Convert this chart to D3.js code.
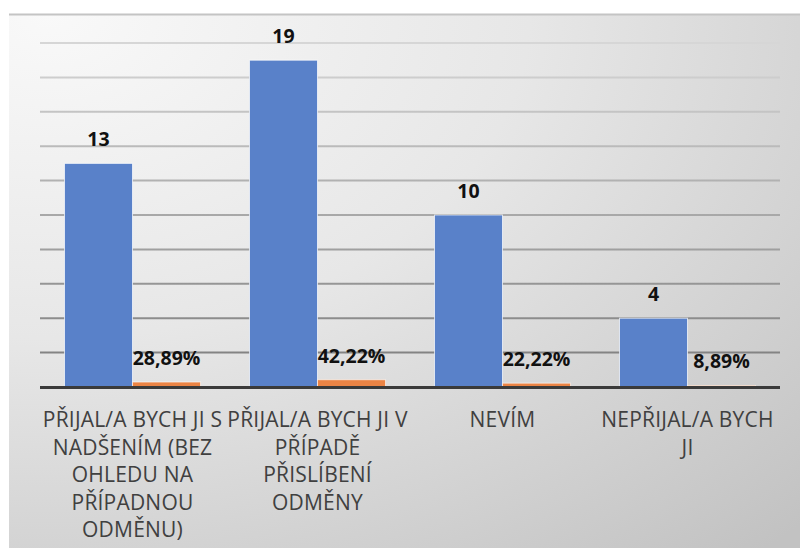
<!DOCTYPE html>
<html>
<head>
<meta charset="utf-8">
<script src="https://cdn.jsdelivr.net/npm/d3@7"></script>
<style>
    body { margin: 0; background: #fff; }
    text { font-family: "Open Sans", "Noto Sans", sans-serif; }
</style>
</head>
<body>
<div id="root"></div>
<script>
// data
const categories = [
    "PŘIJAL/A BYCH JI S\nNADŠENÍM (BEZ\nOHLEDU NA\nPŘÍPADNOU\nODMĚNU)",
    "PŘIJAL/A BYCH JI V\nPŘÍPADĚ\nPŘISLÍBENÍ\nODMĚNY",
    "NEVÍM",
    "NEPŘIJAL/A BYCH\nJI"
]
const counts = [13, 19, 10, 4]
const shares = [0.2889, 0.4222, 0.2222, 0.0889]
const yTicks = [0, 2, 4, 6, 8, 10, 12, 14, 16, 18, 20]

const w = 800, h = 548
const plotLeft = 40, plotRight = 780, plotTop = 43, plotBase = 387

const cz = d3.formatLocale({decimal: ",", thousands: " ", grouping: [3], currency: ["", " Kč"]})
const pct = cz.format(".2%")

const svg = d3.select("#root").append("svg")
    .attr("width", w)
    .attr("height", h)

const defs = svg.append("defs")
const bg = defs.append("radialGradient").attr("id", "bg")
    .attr("cx", 0.05).attr("cy", 0).attr("r", 1.35)
bg.append("stop").attr("offset", "0%").attr("stop-color", "#f9f9f9")
bg.append("stop").attr("offset", "45%").attr("stop-color", "#e7e7e7")
bg.append("stop").attr("offset", "100%").attr("stop-color", "#c2c2c2")

const gridGrad = defs.append("linearGradient").attr("id", "gridGrad")
    .attr("gradientUnits", "userSpaceOnUse")
    .attr("x1", 0).attr("y1", plotTop).attr("x2", 0).attr("y2", plotBase)
gridGrad.append("stop").attr("offset", "0%").attr("stop-color", "#d6d6d6")
gridGrad.append("stop").attr("offset", "100%").attr("stop-color", "#7a7a7a")

// background
svg.append("rect")
    .attr("x", 9).attr("y", 14)
    .attr("width", w - 9).attr("height", h - 14)
    .attr("fill", "url(#bg)")
svg.append("line")
    .attr("x1", 9).attr("x2", w).attr("y1", 14.5).attr("y2", 14.5)
    .attr("stroke", "#c4c4c4").attr("stroke-width", 2)

//scales
const x = d3.scaleBand()
    .domain(categories)
    .range([plotLeft, plotRight])

const xSub = d3.scaleBand()
    .domain(["count", "share"])
    .range([0, x.bandwidth()])
    .paddingOuter(0.36)

const y = d3.scaleLinear()
    .domain([0, 20])
    .range([plotBase, plotTop])

// grid
svg.append("g").selectAll("line")
    .data(yTicks.filter(d => d > 0))
    .enter().append("line")
    .attr("x1", plotLeft).attr("x2", plotRight)
    .attr("y1", d => y(d)).attr("y2", d => y(d))
    .attr("stroke", "url(#gridGrad)")
    .attr("stroke-width", 2)

const rows = categories.map((c, i) => ({cat: c, count: counts[i], share: shares[i]}))

// bars
svg.append("g").selectAll("rect")
    .data(rows)
    .enter().append("rect")
    .attr("x", d => x(d.cat) + xSub("count"))
    .attr("y", d => y(d.count))
    .attr("width", xSub.bandwidth())
    .attr("height", d => y(0) - y(d.count))
    .attr("fill", "#5981c9")
    .attr("stroke", "rgba(255,255,255,0.7)")
    .attr("stroke-width", 1)

svg.append("g").selectAll("rect")
    .data(rows)
    .enter().append("rect")
    .attr("x", d => x(d.cat) + xSub("share"))
    .attr("y", d => y(d.share))
    .attr("width", xSub.bandwidth())
    .attr("height", d => y(0) - y(d.share))
    .attr("fill", "#eb8445")
    .attr("stroke", "rgba(255,255,255,0.6)")
    .attr("stroke-width", 1)

// baseline
svg.append("line")
    .attr("x1", plotLeft).attr("x2", plotRight)
    .attr("y1", y(0) + 0.5).attr("y2", y(0) + 0.5)
    .attr("stroke", "#3a3a3a")
    .attr("stroke-width", 3)

// value labels
svg.append("g").selectAll("text")
    .data(rows)
    .enter().append("text")
    .attr("x", d => x(d.cat) + xSub("count") + xSub.bandwidth() / 2)
    .attr("y", d => y(d.count) - 17)
    .attr("text-anchor", "middle")
    .attr("font-size", 19.5)
    .attr("font-weight", "bold")
    .attr("fill", "#111")
    .text(d => d.count)

svg.append("g").selectAll("text")
    .data(rows)
    .enter().append("text")
    .attr("x", d => x(d.cat) + xSub("share") + xSub.bandwidth() / 2)
    .attr("y", d => y(d.share) - 17)
    .attr("text-anchor", "middle")
    .attr("font-size", 19.5)
    .attr("font-weight", "bold")
    .attr("fill", "#111")
    .text(d => pct(d.share))

// category labels
const catLabels = svg.append("g").selectAll("text")
    .data(categories)
    .enter().append("text")
    .attr("text-anchor", "middle")
    .attr("font-size", 21)
    .attr("letter-spacing", 0.2)
    .attr("fill", "#404040")
    .attr("y", 427)

catLabels.selectAll("tspan")
    .data(d => d.split("\n").map(t => ({cat: d, t})))
    .enter().append("tspan")
    .attr("x", d => x(d.cat) + x.bandwidth() / 2)
    .attr("dy", (d, i) => i ? 27.5 : 0)
    .text(d => d.t)
</script>
</body>
</html>
